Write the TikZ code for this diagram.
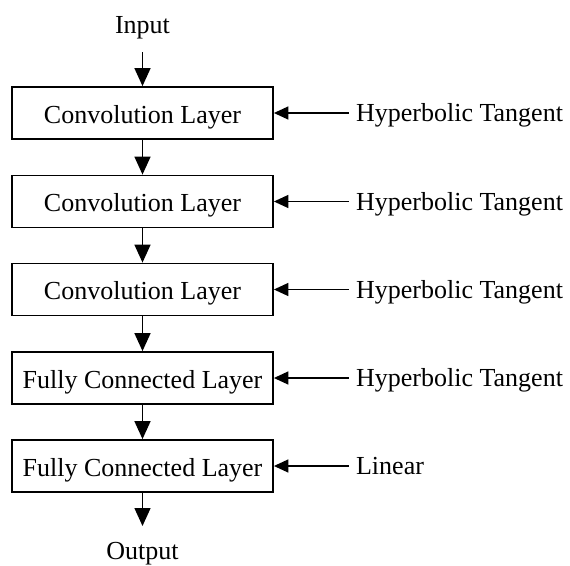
\documentclass[tikz,border=0pt]{standalone}
\usepackage{fontspec}
\setmainfont{Liberation Serif}
\usetikzlibrary{arrows.meta,calc}
\begin{document}
\begin{tikzpicture}[x=1pt,y=-1pt,
  layer/.style={draw,line width=1.8pt,minimum width=261pt,minimum height=52pt,inner sep=0pt,text height=20pt,text depth=0pt,font=\fontsize{26}{30}\selectfont},
  lbl/.style={inner sep=0pt,text height=17.2pt,text depth=0pt,font=\fontsize{26}{30}\selectfont},
  conn/.style={line width=1.5pt,-{Triangle[length=18pt,width=16pt]}},
  hconn/.style={line width=1.5pt,-{Triangle[length=14.5pt,width=13pt]}}]
\useasboundingbox (0,0) rectangle (570,565);
\node[lbl] (in) at (142.5,25) {Input};
\node[layer] (b1) at (142.5,113) {Convolution Layer};
\node[layer] (b2) at (142.5,201.5) {Convolution Layer};
\node[layer] (b3) at (142.5,289.5) {Convolution Layer};
\node[layer] (b4) at (142.5,378) {Fully Connected Layer};
\node[layer] (b5) at (142.5,466) {Fully Connected Layer};
\node[lbl] (out) at (142.5,550.5) {Output};
\coordinate (s0) at (142.5,52);
\coordinate (e6) at (142.5,526);
\foreach \i/\t in {1/Hyperbolic Tangent,2/Hyperbolic Tangent,3/Hyperbolic Tangent,4/Hyperbolic Tangent,5/Linear}{
  \node[lbl,anchor=west] (r\i) at ($(b\i.east)+(82,0.3)$) {\t};
  \coordinate (c\i) at ($(b\i.east)+(75,0)$);
}
\draw[conn] (s0) -- (b1.north);
\draw[conn] (b1) -- (b2);
\draw[conn] (b2) -- (b3);
\draw[conn] (b3) -- (b4);
\draw[conn] (b4) -- (b5);
\draw[conn] (b5.south) -- (e6);
\foreach \i in {1,...,5}{
  \draw[hconn] (c\i) -- (b\i.east);
}
\end{tikzpicture}
\end{document}
